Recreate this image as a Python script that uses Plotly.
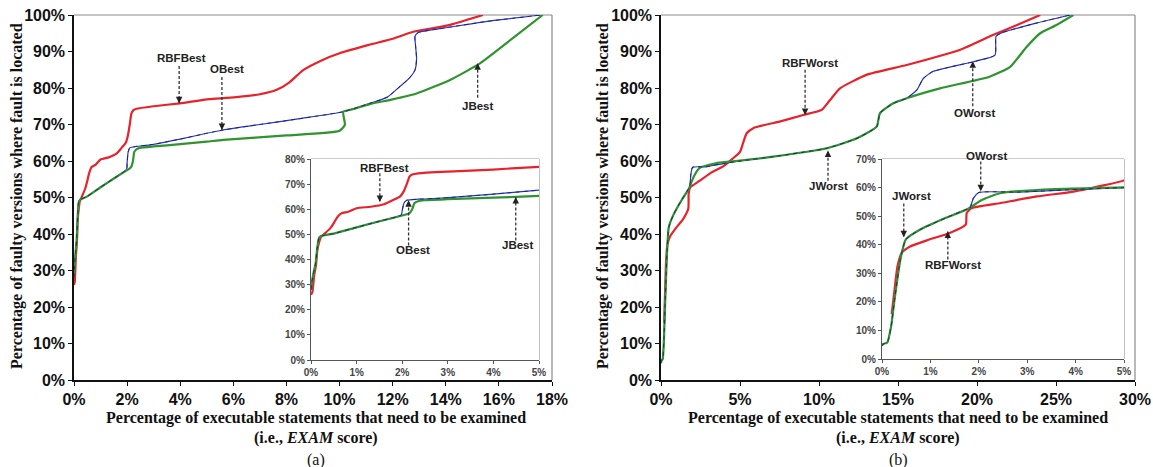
import plotly.graph_objects as go

# ---------------- data (x: % of statements examined, y: % of faulty versions located) -------------
# Panel (a)
rbf_best_x = [0.0, 0.03, 0.07, 0.11, 0.14, 0.18, 0.22, 0.3, 0.42, 0.5, 0.56, 0.62, 0.67, 0.82, 1.0, 1.31,
              1.6, 1.79, 1.95, 2.03, 2.1, 2.16, 2.22, 2.35, 3.0, 3.99, 5.0, 5.62, 7.0, 7.63, 8.1, 8.63,
              9.3, 10.0, 11.1, 12.0, 12.78, 14.16, 15.4]
rbf_best_y = [26, 27, 33.8, 37.8, 43.8, 47, 49, 50.3, 52.4, 54.5, 56.4, 57.7, 58.4, 59, 60.4, 61,
              62, 63.6, 65, 67, 70, 73, 73.8, 74.3, 75, 75.8, 76.9, 77.2, 78.3, 79.5, 81.5, 84.9,
              87.5, 89.5, 91.8, 93.5, 95.4, 97.3, 100]

j_best_x = [0.0, 0.02, 0.06, 0.1, 0.14, 0.18, 0.25, 0.5, 1.0, 1.5, 2.0, 2.1, 2.15, 2.22, 2.27, 2.35, 2.48,
            3.0, 4.0, 5.0, 5.62, 8.0, 10.0, 10.2, 10.14, 10.5, 11.14, 12.0, 12.9, 14.16, 15.3, 16.5, 17.65]
j_best_y = [28, 31, 35, 38.3, 45, 48.7, 49.5, 50.3, 52.8, 55.2, 57.5, 58.0, 58.3, 60, 62.5, 63.2, 63.6,
            64.0, 64.6, 65.3, 65.8, 67, 68.3, 69.9, 73.5, 74.2, 75.6, 76.9, 78.5, 82.2, 86.8, 93.5, 100]

o_best_x = [0.0, 0.02, 0.06, 0.1, 0.14, 0.18, 0.25, 0.5, 1.0, 1.5, 1.98, 2.0, 2.04, 2.1, 2.35, 2.86,
            4.0, 5.0, 5.62, 7.0, 8.5, 10.14, 11.14, 11.8, 12.27, 12.6, 12.84, 12.9, 12.87, 12.84, 12.96,
            14.0, 15.5, 17.6]
o_best_y = [28, 31, 35, 38.3, 45, 49, 49.5, 50.3, 52.8, 55.2, 57.7, 59.5, 62.5, 63.6, 64, 64.4,
            66.0, 67.6, 68.5, 70.0, 71.6, 73.5, 75.8, 77.5, 80.4, 82.5, 84.9, 88, 91, 94.1, 95.2,
            96.5, 98.2, 100]

# Panel (b)
rbf_worst_x = [0.2, 0.26, 0.32, 0.41, 0.57, 0.94, 1.4, 1.73, 1.75, 1.85, 2.45, 3.2, 3.96, 4.5, 5.0, 5.2,
               5.42, 5.84, 7.5, 9.0, 10.17, 10.7, 11.33, 13.0, 15.55, 18.9, 21.0, 22.5, 24.0]
rbf_worst_y = [15.7, 24.4, 32.5, 37.2, 39.3, 41.6, 44.1, 47, 51.1, 52.8, 54.6, 56.9, 58.6, 60.5, 62.5, 65,
               67.6, 69, 70.8, 72.6, 74, 76.7, 79.9, 83.6, 86.3, 90.4, 94.5, 97.2, 100]

j_worst_x = [0.0, 0.02, 0.11, 0.19, 0.26, 0.38, 0.49, 0.79, 1.32, 1.77, 2.07, 2.45, 3.58, 5.0, 7.1, 10.5,
             12.4, 13.65, 13.86, 14.7, 15.55, 17.66, 20.8, 22.1, 23.15, 24.0, 25.0, 26.1]
j_worst_y = [4.6, 5.2, 5.8, 11.6, 20.9, 34.8, 41.8, 45.3, 49.4, 52.5, 55.7, 58.1, 59.5, 60.1, 61.2, 63.5,
             66.2, 69.4, 73.1, 75.8, 77.2, 79.9, 83.1, 85.8, 91.3, 95, 97.2, 100]

o_worst_x = [0.0, 0.02, 0.11, 0.19, 0.26, 0.38, 0.49, 0.79, 1.32, 1.77, 1.81, 1.89, 2.0, 2.83, 3.94, 5.0,
             7.1, 10.5, 12.4, 13.65, 13.86, 14.7, 15.55, 16.2, 16.6, 17.2, 19.77, 21.14, 21.2, 21.5, 23.5, 25.9]
o_worst_y = [4.6, 5.2, 5.8, 11.6, 20.9, 34.8, 41.8, 45.3, 49.4, 52.5, 52.6, 56.3, 58.3, 58.4, 59.3, 60.0,
             61.2, 63.5, 66.2, 69.4, 73.1, 75.8, 77.2, 79.5, 82.6, 84.5, 87.2, 89, 94.1, 95, 97.5, 100]

# Callout labels: (axis suffix, text, text x, text y, line x, line start y, arrow tip y)
labels = [
    ("", "RBFBest", 4.04, 88.2, 3.96, 86.0, 75.8),
    ("", "OBest", 5.77, 85.1, 5.57, 83.0, 68.5),
    ("", "JBest", 15.2, 75.2, 15.2, 77.3, 86.8),
    ("2", "RBFBest", 1.61, 76.3, 1.51, 74.3, 62.9),
    ("2", "OBest", 2.23, 43.6, 2.14, 45.6, 63.6),
    ("2", "JBest", 4.53, 45.6, 4.49, 47.6, 64.9),
    ("3", "RBFWorst", 9.46, 86.9, 9.12, 85.0, 72.6),
    ("3", "JWorst", 10.6, 53.1, 10.57, 54.6, 62.9),
    ("3", "OWorst", 19.85, 73.2, 19.73, 75.0, 87.3),
    ("4", "OWorst", 2.15, 71.1, 2.04, 69.1, 58.7),
    ("4", "JWorst", 0.6, 56.9, 0.45, 54.4, 42.6),
    ("4", "RBFWorst", 1.47, 32.9, 1.36, 34.8, 44.6),
]

# axis ranges: suffix -> (x max, y max)
ranges = {"": (18, 100), "2": (5, 80), "3": (30, 100), "4": (5, 70)}

RED = "#e8222a"
GREEN = "#2f9330"
BLUE = "#2535d0"

fig = go.Figure()


def add_line(xs, ys, color, width, xa, ya, dash="solid"):
    fig.add_trace(go.Scatter(x=xs, y=ys, mode="lines",
                             line=dict(color=color, width=width, dash=dash, shape="spline",
                                       smoothing=0.5),
                             xaxis=xa, yaxis=ya, showlegend=False, hoverinfo="skip"))


def add_panel(rx, ry, jx, jy, ox, oy, xa, ya):
    add_line(rx, ry, RED, 2.2, xa, ya)
    add_line(ox, oy, BLUE, 1.2, xa, ya)
    add_line(jx, jy, GREEN, 2.2, xa, ya)
    add_line(ox, oy, "#202060", 0.9, xa, ya, dash="4px,4px")


for xa, ya in (("x", "y"), ("x2", "y2")):
    add_panel(rbf_best_x, rbf_best_y, j_best_x, j_best_y, o_best_x, o_best_y, xa, ya)

for xa, ya in (("x3", "y3"), ("x4", "y4")):
    add_panel(rbf_worst_x, rbf_worst_y, j_worst_x, j_worst_y, o_worst_x, o_worst_y, xa, ya)

W, H = 1153, 467


def px_x(p):
    return p / W


def px_y(p):
    return 1 - p / H


main_tick = dict(family="Liberation Sans, Arial, sans-serif", size=16, color="#111", weight="bold")
inset_tick = dict(family="Liberation Sans, Arial, sans-serif", size=10, color="#444", weight="bold")


def main_axes(dom_x, dom_y, xmax, xdt, anchor_x, anchor_y):
    xa = dict(domain=dom_x, range=[0, xmax], dtick=xdt, tick0=0, ticksuffix="%", showgrid=False,
              zeroline=False, showline=True, linecolor="#111", linewidth=1.5, ticks="outside",
              ticklen=4, tickcolor="#111", tickfont=main_tick, anchor=anchor_y, fixedrange=True,
              automargin=False)
    ya = dict(domain=dom_y, range=[0, 100], dtick=10, tick0=0, ticksuffix="%", showgrid=False,
              zeroline=False, showline=True, linecolor="#111", linewidth=1.5, ticks="outside",
              ticklen=4, tickcolor="#111", tickfont=main_tick, anchor=anchor_x, fixedrange=True,
              automargin=False)
    return xa, ya


def inset_axes(dom_x, dom_y, ymax, anchor_x, anchor_y):
    xa = dict(domain=dom_x, range=[0, 5], dtick=1, tick0=0, ticksuffix="%", showgrid=False,
              zeroline=False, showline=True, linecolor="#555", linewidth=1.2, ticks="outside",
              ticklen=3, tickcolor="#555", tickfont=inset_tick, anchor=anchor_y, fixedrange=True,
              automargin=False)
    ya = dict(domain=dom_y, range=[0, ymax], dtick=10, tick0=0, ticksuffix="%", showgrid=False,
              zeroline=False, showline=True, linecolor="#555", linewidth=1.2, ticks="outside",
              ticklen=3, tickcolor="#555", tickfont=inset_tick, anchor=anchor_x, fixedrange=True,
              automargin=False)
    return xa, ya


xa1, ya1 = main_axes([px_x(74), px_x(552)], [px_y(380), px_y(15)], ranges[""][0], 2, "x", "y")
xa2, ya2 = inset_axes([px_x(311), px_x(539)], [px_y(360), px_y(159)], ranges["2"][1], "x2", "y2")
xa3, ya3 = main_axes([px_x(661), px_x(1135)], [px_y(380), px_y(15)], ranges["3"][0], 5, "x3", "y3")
xa4, ya4 = inset_axes([px_x(882), px_x(1124)], [px_y(359), px_y(159)], ranges["4"][1], "x4", "y4")

shapes = []
# frames (top/right) in gray
for sfx, col in (("", "#8a8a8a"), ("2", "#9a9a9a"), ("3", "#8a8a8a"), ("4", "#9a9a9a")):
    xr = "x" + sfx + " domain"
    yr = "y" + sfx + " domain"
    shapes.append(dict(type="line", xref=xr, yref=yr, x0=0, x1=1, y0=1, y1=1,
                       line=dict(color=col, width=1.2), layer="below"))
    shapes.append(dict(type="line", xref=xr, yref=yr, x0=1, x1=1, y0=0, y1=1,
                       line=dict(color=col, width=1.2), layer="below"))

annotations = []
lab_font = dict(family="Liberation Sans, Arial, sans-serif", size=11.5, color="#222", weight="bold")
for sfx, txt, tx, ty, lx, ly0, ly1 in labels:
    xmax, ymax = ranges[sfx]
    xr = "x" + sfx + " domain"
    yr = "y" + sfx + " domain"
    annotations.append(dict(text=txt, x=tx / xmax, y=ty / ymax, xref=xr, yref=yr, showarrow=False,
                            xanchor="center", yanchor="middle", font=lab_font))
    shapes.append(dict(type="line", xref=xr, yref=yr, x0=lx / xmax, x1=lx / xmax, y0=ly0 / ymax,
                       y1=ly1 / ymax, line=dict(color="#333", width=1.3, dash="3px,2px")))
    down = ly1 < ly0
    annotations.append(dict(text="", x=lx / xmax, y=ly1 / ymax, xref=xr, yref=yr, showarrow=True,
                            ax=0, ay=-7 if down else 7, arrowhead=2, arrowsize=1, arrowwidth=1.3,
                            arrowcolor="#222"))

title_font = dict(family="Liberation Serif, Times New Roman, serif", size=16, color="#111")
for cx, ycx, tag in ((316, 17, "(a)"), (898, 603, "(b)")):
    annotations.append(dict(text="<b>Percentage of executable statements that need to be examined</b>",
                            x=px_x(cx), y=px_y(418), xref="paper", yref="paper", showarrow=False,
                            xanchor="center", yanchor="middle", font=title_font))
    annotations.append(dict(text="<b>(i.e., <i>EXAM</i> score)</b>", x=px_x(cx), y=px_y(438),
                            xref="paper", yref="paper", showarrow=False,
                            xanchor="center", yanchor="middle", font=title_font))
    annotations.append(dict(text=tag, x=px_x(cx), y=px_y(460), xref="paper", yref="paper",
                            showarrow=False, xanchor="center", yanchor="middle",
                            font=dict(family="Liberation Serif, Times New Roman, serif", size=16,
                                      color="#111")))
    annotations.append(dict(text="<b>Percentage of faulty versions where fault is located</b>",
                            x=px_x(ycx), y=px_y(196), xref="paper", yref="paper", showarrow=False,
                            xanchor="center", yanchor="middle", textangle=-90, font=title_font))

fig.update_layout(
    width=W, height=H, margin=dict(l=0, r=0, t=0, b=0),
    paper_bgcolor="white", plot_bgcolor="white", showlegend=False,
    xaxis=xa1, yaxis=ya1, xaxis2=xa2, yaxis2=ya2, xaxis3=xa3, yaxis3=ya3, xaxis4=xa4, yaxis4=ya4,
    shapes=shapes, annotations=annotations,
)

fig.write_html("out.html")
